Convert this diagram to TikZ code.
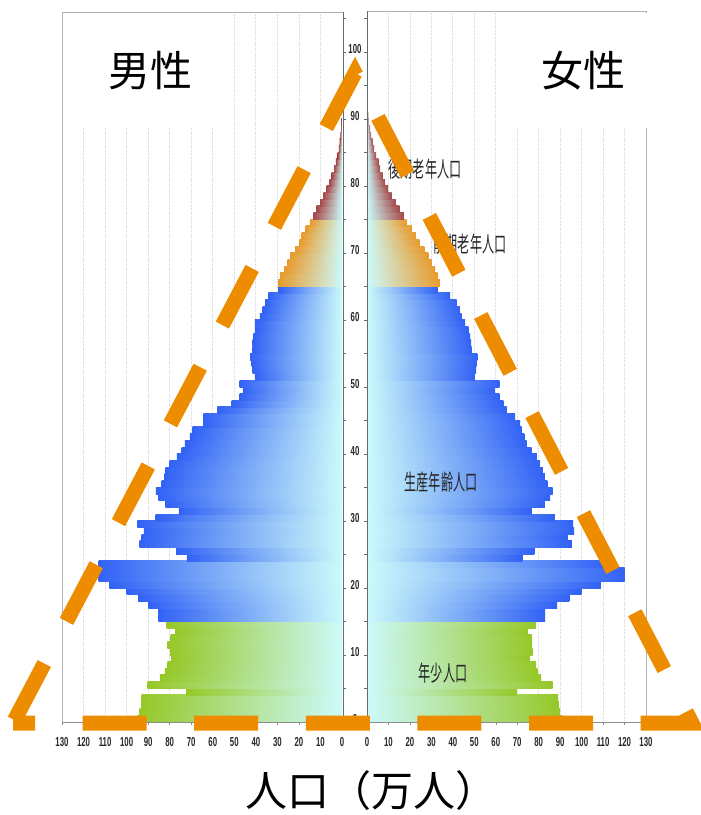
\documentclass[tikz,border=0pt]{standalone}
\usepackage{fontspec}
\newfontfamily\jpfont{Noto Sans CJK JP}
\newfontfamily\numfont{Liberation Sans}
\usepackage{tikz}

\definecolor{dashorange}{RGB}{238,140,0}
\definecolor{barblue}{RGB}{50,98,245}
\definecolor{bargreen}{RGB}{150,200,40}
\definecolor{barorange}{RGB}{232,155,45}
\definecolor{barbrown}{RGB}{165,72,72}
\definecolor{barpale}{RGB}{205,250,250}
\definecolor{axisgray}{RGB}{95,110,110}

\tikzset{
  gridline/.style={black!14, densely dotted, line width=0.7pt},
  framegray/.style={black!30, line width=0.8pt},
  axisline/.style={axisgray, line width=1pt},
  ticklbl/.style={font=\numfont\bfseries\fontsize{13}{13}\selectfont, xscale=0.6, text=black!85, inner sep=0pt},
  catlbl/.style={font=\jpfont\fontsize{22}{22}\selectfont, xscale=0.55, text=black!85, inner sep=0pt},
  biglbl/.style={font=\jpfont\fontsize{42}{42}\selectfont, inner sep=0pt},
  triangle/.style={dashorange, line width=15pt, dash pattern=on 64pt off 47.6pt, dash phase=42pt}
}

\begin{document}
\begin{tikzpicture}[x=1pt, y=-1pt]
  \useasboundingbox (0,0) rectangle (701,815);

  % grid
  \foreach \k in {1,...,12} {
    \draw[gridline] ({342-21.54*\k},12) -- ({342-21.54*\k},722);
    \draw[gridline] ({367+21.46*\k},11) -- ({367+21.46*\k},722);
  }
  \draw[framegray] (62,722) -- (62,12) -- (343,12);
  \draw[framegray] (367,11) -- (646,11) -- (646,722);
  \fill[white] (64,13) rectangle (225,128);
  \fill[white] (505,12.5) rectangle (701,128);

  % male
  \foreach \v [count=\a from 0] in {95,94,93,93,72.4,90.2,84.5,82.2,81.1,79.3,79.9,81.1,79.6,77.2,81.4}
    \shade[left color=bargreen, right color=barpale] ({342-2.154*\v},{722-6.7*(\a+1)-0.3}) rectangle (342,{722-6.7*\a});
  \foreach \v [count=\a from 15] in {85.3,85.3,89.9,94.6,100,108,113,113,113,72,77,94,93,92,95,86.5,75.7,82,85.3,86.4,83.7,82.5,82,80,76.7,74.4,73,70.6,69.3,64.4,64.4,57.9,51.2,47.5,46,47.5,40.4,41.5,42,42.7,41.5,41.5,41.2,40.4,40.4,38.1,36.8,35.7,34.2,29.4}
    \shade[left color=barblue, right color=barpale] ({342-2.154*\v},{722-6.7*(\a+1)-0.3}) rectangle (342,{722-6.7*\a});
  \foreach \v [count=\a from 65] in {29.6,28.8,26.9,25.4,24.1,21.8,19.8,18.7,16.9,14.9}
    \shade[left color=barorange, middle color=barorange!60!white, right color=barpale] ({342-2.154*\v},{722-6.7*(\a+1)-0.3}) rectangle (342,{722-6.7*\a});
  \foreach \v [count=\a from 75] in {13.3,11.8,10.2,8.7,7.1,5.9,4.8,3.7,2.8,2.0,1.5,1.1,0.8,0.6,0.4,0.3,0.2,0.1}
    \shade[left color=barbrown, middle color=barbrown!60!white, right color=barpale] ({342-2.154*\v},{722-6.7*(\a+1)-0.3}) rectangle (342,{722-6.7*\a});

  % female
  \foreach \v [count=\a from 0] in {91,90,89.4,89.1,69.8,86.5,81.1,79.4,78.8,76,77.2,76.9,76.7,74.7,78.8}
    \shade[left color=barpale, right color=bargreen] (367,{722-6.7*(\a+1)-0.3}) rectangle ({367+2.146*\v},{722-6.7*\a});
  \foreach \v [count=\a from 15] in {83,83,88.6,94.3,100,109,120,120,111,72.5,78,95.5,93.4,96.5,96,87.6,76.7,82.9,85.3,86.5,84,82.9,81.9,80.6,79.1,76.7,74.4,73.3,72.1,71.3,69,65.1,63.5,61.7,59.6,61.7,50.3,50.8,51.1,51.4,48.8,48.5,48,47.2,45.7,44.1,43.3,41.8,38.7,32.8}
    \shade[left color=barpale, right color=barblue] (367,{722-6.7*(\a+1)-0.3}) rectangle ({367+2.146*\v},{722-6.7*\a});
  \foreach \v [count=\a from 65] in {34,32.8,31.7,30.1,28.6,26.7,24.4,22.8,20.8,18.5}
    \shade[left color=barpale, middle color=barorange!60!white, right color=barorange] (367,{722-6.7*(\a+1)-0.3}) rectangle ({367+2.146*\v},{722-6.7*\a});
  \foreach \v [count=\a from 75] in {17.2,15.1,13.5,11.5,9.9,8.4,7.3,6.1,5.3,4.2,3.3,2.6,1.9,1.4,0.9,0.6,0.4,0.3,0.2,0.1}
    \shade[left color=barpale, middle color=barbrown!60!white, right color=barbrown] (367,{722-6.7*(\a+1)-0.3}) rectangle ({367+2.146*\v},{722-6.7*\a});

  % axes
  \draw[axisline] (343,12) -- (343,722);
  \draw[axisline] (367,11) -- (367,722);
  \draw[framegray, black!45] (62,722) -- (343,722);
  \draw[framegray, black!45] (367,722) -- (646,722);
  \foreach \a in {0,5,...,105} {
    \draw[axisline] (343,{722-6.7*\a}) -- +(3,0);
    \draw[axisline] (367,{722-6.7*\a}) -- +(-3,0);
  }
  \foreach \n [count=\k from 0] in {0,10,...,130} {
    \draw[black!45] ({342-21.54*\k},722) -- +(0,3);
    \draw[black!45] ({367+21.46*\k},722) -- +(0,3);
    \node[ticklbl] (ml\k) at ({342-21.54*\k},742) {\n};
    \node[ticklbl] (fl\k) at ({367+21.46*\k},742) {\n};
  }
  \foreach \n in {0,10,...,100}
    \node[ticklbl] (age\n) at (355,{719-6.7*\n}) {\n};

  % labels
  \node[catlbl] (late)  at (425,169) {後期老年人口};
  \node[catlbl] (early) at (470,244) {前期老年人口};
  \node[catlbl] (work)  at (441,482) {生産年齢人口};
  \node[catlbl] (young) at (443,673) {年少人口};

  \coordinate (apex) at (355,73);
  \coordinate (bl) at (13,723);
  \coordinate (br) at (692,723);
  \draw[triangle] (bl) -- (br) -- (apex) -- cycle;

  \node[biglbl] (male)   at (150,71) {男性};
  \node[biglbl] (female) at (583,71) {女性};
  \node[biglbl, anchor=base] (unit) at (371,806) {人口（万人）};
\end{tikzpicture}
\end{document}
